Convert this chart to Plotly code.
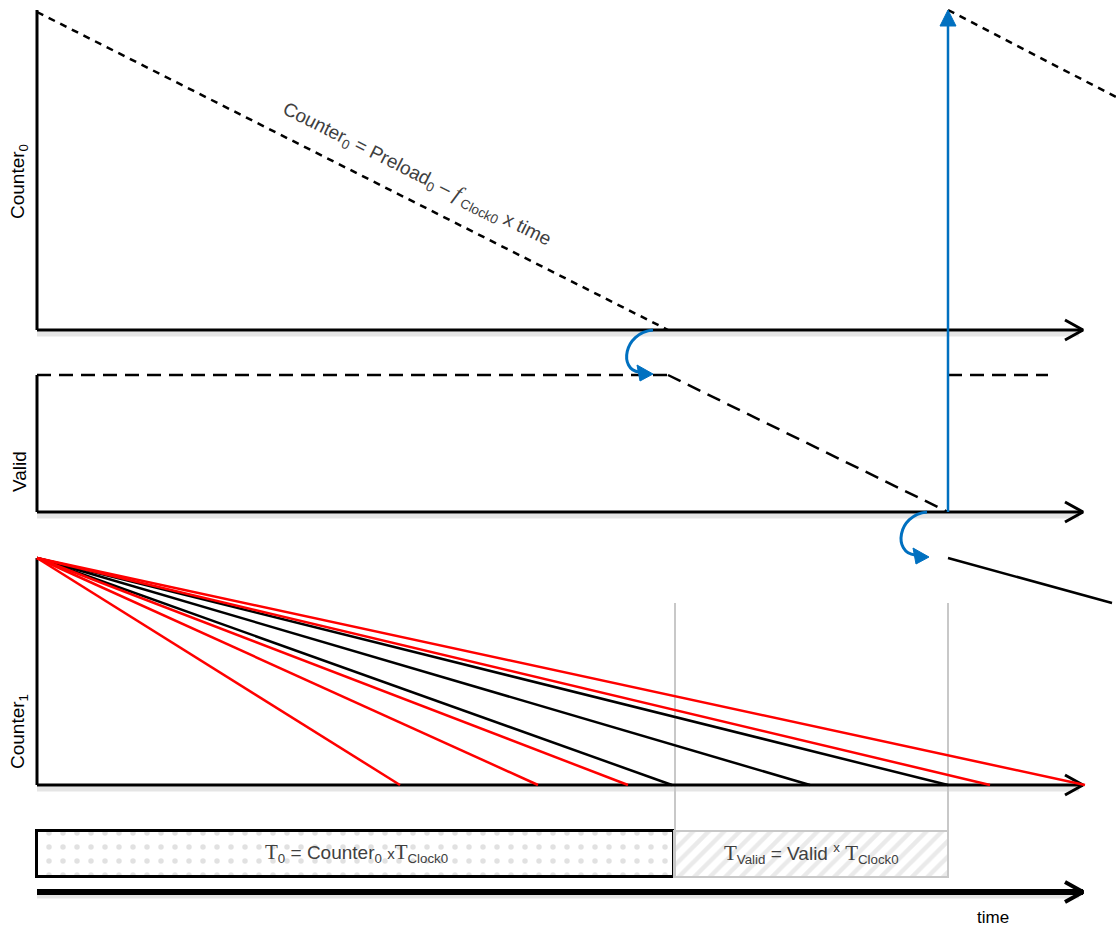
import plotly.graph_objects as go

# ---------------- data (diagram coordinates: x = time, y = page position) ----------------
t_origin = 37            # start of time axis
axis_end = 1083          # arrow tip of the time axes
panel_top = [10, 375, 558]       # top of Counter0 / Valid / Counter1 panels
panel_base = [330, 512, 785]     # baseline of Counter0 / Valid / Counter1 panels
panel_labels = ["Counter<sub>0</sub>", "Valid", "Counter<sub>1</sub>"]
panel_label_y = [182, 472, 732]

t_zero = 668             # Counter0 reaches zero / Valid starts to count down
t_reload = 948           # Valid reaches zero / Counter0 reloaded
counter0_start = 12
counter0_next_end = (1116, 97)
valid_next_end = 1048
counter1_next = [(948, 558), (1112, 603)]

counter1_red_ends = [400, 538, 628, 990, 1085]
counter1_black_ends = [672, 810, 948]
marker_x = [675, 948]     # grey vertical markers
marker_y = [603, 878]

box_top, box_bottom = 831, 877
box_T0 = (37, 674)
box_Tvalid = (674, 948)
time_axis_y = 892

BLUE = "#0070C0"
SERIF = "font-family:'Liberation Serif','Times New Roman',serif"

fig = go.Figure()


def line(xs, ys, color="black", width=2.5, dash=None):
    fig.add_trace(go.Scatter(x=xs, y=ys, mode="lines", hoverinfo="skip",
                             line=dict(color=color, width=width, dash=dash)))


# boxes with pattern fills (horizontal bars)
fig.add_trace(go.Bar(orientation="h", y=[(box_top + box_bottom) / 2],
                     x=[box_T0[1] - box_T0[0]], base=[box_T0[0]],
                     width=[box_bottom - box_top],
                     marker=dict(color="white", line=dict(color="black", width=3),
                                 pattern=dict(shape=".", fgcolor="#c4c4c4", size=14,
                                              solidity=0.12, bgcolor="white")),
                     hoverinfo="skip"))
fig.add_trace(go.Bar(orientation="h", y=[(box_top + box_bottom) / 2],
                     x=[box_Tvalid[1] - box_Tvalid[0]], base=[box_Tvalid[0]],
                     width=[box_bottom - box_top],
                     marker=dict(color="white", line=dict(color="#c8c8c8", width=2),
                                 pattern=dict(shape="/", fgcolor="#d6d6d6", size=11,
                                              solidity=0.4, bgcolor="white")),
                     hoverinfo="skip"))

# axis shadows
for yb in panel_base + [time_axis_y]:
    line([t_origin, axis_end - 4], [yb + 4, yb + 4], color="rgba(0,0,0,0.10)", width=5)

# grey markers
for mx in marker_x:
    line([mx, mx], marker_y, color="#c8c8c8", width=2)

# panel axes
for top, base in zip(panel_top, panel_base):
    line([t_origin, t_origin], [top, base], width=3)
    line([t_origin, axis_end], [base, base], width=3)
    line([axis_end - 18, axis_end, axis_end - 18], [base - 10, base, base + 10], width=3)

# time axis (bottom)
line([t_origin, axis_end], [time_axis_y, time_axis_y], width=6)
line([axis_end - 18, axis_end, axis_end - 18], [time_axis_y - 10, time_axis_y, time_axis_y + 10], width=4)

# Counter0 ramp
line([t_origin, t_zero], [counter0_start, panel_base[0]], dash="7px,6px", width=2.5)
line([t_reload, counter0_next_end[0]], [counter0_start - 2, counter0_next_end[1]], dash="7px,6px", width=2.5)

# Valid
line([t_origin, t_zero], [panel_top[1], panel_top[1]], dash="14px,8px", width=2.5)
line([t_zero, t_reload], [panel_top[1], panel_base[1]], dash="14px,8px", width=2.5)
line([t_reload, valid_next_end], [panel_top[1], panel_top[1]], dash="14px,8px", width=2.5)

# Counter1 ramps
for xe in counter1_black_ends:
    line([t_origin, xe], [panel_top[2], panel_base[2]], color="black", width=2.5)
for xe in counter1_red_ends:
    line([t_origin, xe], [panel_top[2], panel_base[2]], color="#FF0000", width=2.5)
line([p[0] for p in counter1_next], [p[1] for p in counter1_next], width=2.5)

# blue reload arrow
line([t_reload, t_reload], [panel_base[1], counter0_start + 12], color=BLUE, width=2.5)

shapes = [
    dict(type="path", xref="x", yref="y",
         path=f"M {t_reload} {counter0_start - 2} L {t_reload - 8} {counter0_start + 14} L {t_reload + 8} {counter0_start + 14} Z",
         fillcolor=BLUE, line=dict(color=BLUE, width=1)),
]
# curved blue arrows
for (sx, sy), (tx, ty) in [((653, 330), (653, 374)), ((927, 512), (929, 557))]:
    shapes.append(dict(type="path", xref="x", yref="y",
                       path=f"M {sx} {sy} C {sx - 30} {sy + 3}, {sx - 34} {ty - 4}, {tx - 14} {ty - 2}",
                       line=dict(color=BLUE, width=3)))
    shapes.append(dict(type="path", xref="x", yref="y",
                       path=f"M {tx} {ty} L {tx - 16} {ty - 9} L {tx - 13} {ty + 7} Z",
                       fillcolor=BLUE, line=dict(color=BLUE, width=1)))

annotations = []
for lab, ly in zip(panel_labels, panel_label_y):
    annotations.append(dict(x=19, y=ly, xref="x", yref="y", text=lab, textangle=-90,
                            showarrow=False, font=dict(size=19, color="black")))
annotations.append(dict(x=417, y=173, xref="x", yref="y", textangle=26.6, showarrow=False,
                        text="Counter<sub>0</sub> = Preload<sub>0</sub> \u2013 "
                             f"<span style=\"{SERIF};font-size:22px\"><i>f</i></span><sub> Clock0</sub> x time",
                        font=dict(size=19, color="#404040")))
annotations.append(dict(x=356, y=853, xref="x", yref="y", showarrow=False,
                        text=f"<span style=\"{SERIF};font-size:21px\">T</span><sub>0</sub> = Counter<sub>0</sub> "
                             f"<span style=\"font-size:15px\">x</span><span style=\"{SERIF};font-size:21px\">T</span><sub>Clock0</sub>",
                        font=dict(size=19, color="#404040")))
annotations.append(dict(x=811, y=853, xref="x", yref="y", showarrow=False,
                        text=f"<span style=\"{SERIF};font-size:21px\">T</span><sub>Valid</sub> = Valid "
                             f"<sup style=\"font-size:12px\">x</sup> <span style=\"{SERIF};font-size:21px\">T</span><sub>Clock0</sub>",
                        font=dict(size=19, color="#404040")))
annotations.append(dict(x=993, y=917, xref="x", yref="y", text="time", showarrow=False,
                        font=dict(size=17, color="black")))

fig.update_layout(
    width=1116, height=929, margin=dict(l=0, r=0, t=0, b=0),
    plot_bgcolor="white", paper_bgcolor="white", showlegend=False,
    font=dict(family="Liberation Sans, Arial, sans-serif"),
    xaxis=dict(range=[0, 1116], visible=False, fixedrange=True),
    yaxis=dict(range=[929, 0], visible=False, fixedrange=True),
    shapes=shapes, annotations=annotations, bargap=0,
)

fig.write_html("out.html", config={"displayModeBar": False},
               post_script="document.body.style.margin='0';")
